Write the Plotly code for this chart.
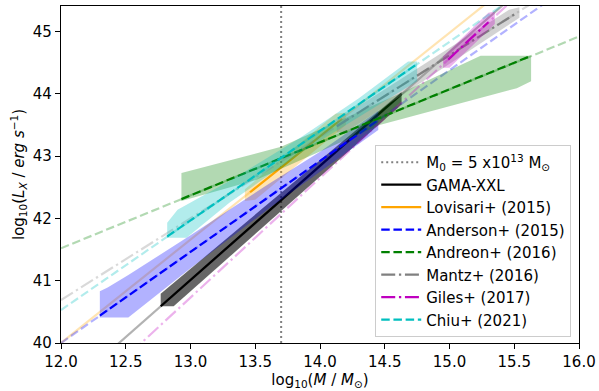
import plotly.graph_objects as go

# ---------------- data ----------------
X_RANGE = [12.0, 16.0]
Y_RANGE = [40.0, 45.41]
X_TICKS = [12.0, 12.5, 13.0, 13.5, 14.0, 14.5, 15.0, 15.5, 16.0]
Y_TICKS = [40, 41, 42, 43, 44, 45]

M0_LOG = 13.7
M0_LABEL = "M<sub>0</sub> = 5 x10<sup>13</sup> M<sub>⊙</sub>"

names = ["GAMA-XXL", "Lovisari+ (2015)", "Anderson+ (2015)", "Andreon+ (2016)",
         "Mantz+ (2016)", "Giles+ (2017)", "Chiu+ (2021)"]

# full (faint) relation lines: values at x = 12 and x = 16
faint_x = [12.0, 16.0]
faint_y = {
    "GAMA-XXL":         [39.18, 46.50],
    "Lovisari+ (2015)": [40.00, 46.64],
    "Anderson+ (2015)": [40.00, 45.84],
    "Andreon+ (2016)":  [41.52, 44.92],
    "Mantz+ (2016)":    [40.69, 45.93],
    "Giles+ (2017)":    [38.81, 46.49],
    "Chiu+ (2021)":     [40.53, 46.27],
}

# relations over the mass range of each sample
dark_x = {
    "GAMA-XXL":         [12.77, 14.63],
    "Lovisari+ (2015)": [13.46, 14.17],
    "Anderson+ (2015)": [12.30, 14.45],
    "Andreon+ (2016)":  [12.93, 15.63],
    "Mantz+ (2016)":    [14.13, 15.52],
    "Giles+ (2017)":    [14.99, 15.30],
    "Chiu+ (2021)":     [12.82, 14.75],
}
dark_y = {
    "GAMA-XXL":         [40.59, 44.00],
    "Lovisari+ (2015)": [42.42, 43.60],
    "Anderson+ (2015)": [40.44, 43.58],
    "Andreon+ (2016)":  [42.31, 44.61],
    "Mantz+ (2016)":    [43.48, 45.30],
    "Giles+ (2017)":    [44.55, 45.15],
    "Chiu+ (2021)":     [41.71, 44.48],
}

# uncertainty bands: upper edge (x, y) and lower edge (x, y)
band_up_x = {
    "GAMA-XXL":         [12.77, 14.53, 14.63],
    "Lovisari+ (2015)": [13.42, 14.12, 14.20],
    "Anderson+ (2015)": [12.30, 12.36, 12.52, 13.00, 13.60, 14.00, 14.45],
    "Andreon+ (2016)":  [12.93, 13.70, 14.62, 15.24, 15.63],
    "Mantz+ (2016)":    [14.13, 15.46, 15.54],
    "Giles+ (2017)":    [14.95, 15.30, 15.35],
    "Chiu+ (2021)":     [12.82, 12.90, 13.30, 13.85, 14.30, 14.68, 14.75],
}
band_up_y = {
    "GAMA-XXL":         [40.79, 43.85, 44.03],
    "Lovisari+ (2015)": [42.47, 43.68, 43.70],
    "Anderson+ (2015)": [40.83, 40.89, 41.09, 41.73, 42.55, 43.07, 43.73],
    "Andreon+ (2016)":  [42.73, 43.15, 44.01, 44.61, 44.61],
    "Mantz+ (2016)":    [43.58, 45.35, 45.39],
    "Giles+ (2017)":    [44.60, 45.30, 45.32],
    "Chiu+ (2021)":     [41.93, 42.14, 42.60, 43.30, 43.93, 44.52, 44.52],
}
band_lo_x = {
    "GAMA-XXL":         [12.77, 12.87, 14.63],
    "Lovisari+ (2015)": [13.42, 13.50, 14.20],
    "Anderson+ (2015)": [12.30, 12.52, 13.00, 13.60, 14.00, 14.45],
    "Andreon+ (2016)":  [12.93, 13.51, 14.46, 15.52, 15.63],
    "Mantz+ (2016)":    [14.13, 14.21, 15.54],
    "Giles+ (2017)":    [14.95, 15.00, 15.35],
    "Chiu+ (2021)":     [12.82, 12.97, 13.30, 13.85, 14.30, 14.75],
}
band_lo_y = {
    "GAMA-XXL":         [40.59, 40.59, 43.83],
    "Lovisari+ (2015)": [42.28, 42.30, 43.50],
    "Anderson+ (2015)": [40.41, 40.41, 41.20, 42.15, 42.75, 43.42],
    "Andreon+ (2016)":  [42.28, 42.62, 43.50, 44.09, 44.20],
    "Mantz+ (2016)":    [43.38, 43.40, 45.22],
    "Giles+ (2017)":    [44.42, 44.42, 45.12],
    "Chiu+ (2021)":     [41.69, 41.69, 42.25, 43.05, 43.63, 44.20],
}

# ---------------- styles ----------------
rgb = {
    "GAMA-XXL":         (0, 0, 0),
    "Lovisari+ (2015)": (255, 165, 0),
    "Anderson+ (2015)": (0, 0, 255),
    "Andreon+ (2016)":  (0, 128, 0),
    "Mantz+ (2016)":    (128, 128, 128),
    "Giles+ (2017)":    (191, 0, 191),
    "Chiu+ (2021)":     (0, 191, 191),
}
DASHED = "8.5px,3.7px"
DASHDOT = "14px,3.7px,2.3px,3.7px"
dash = {
    "GAMA-XXL": "solid",
    "Lovisari+ (2015)": "solid",
    "Anderson+ (2015)": DASHED,
    "Andreon+ (2016)": DASHED,
    "Mantz+ (2016)": DASHDOT,
    "Giles+ (2017)": DASHDOT,
    "Chiu+ (2021)": DASHED,
}
band_alpha = {
    "GAMA-XXL": 0.6,
    "Lovisari+ (2015)": 0.3,
    "Anderson+ (2015)": 0.3,
    "Andreon+ (2016)": 0.3,
    "Mantz+ (2016)": 0.35,
    "Giles+ (2017)": 0.3,
    "Chiu+ (2021)": 0.3,
}


def rgba(c, a):
    return f"rgba({c[0]},{c[1]},{c[2]},{a})"


LW = 2.2
fig = go.Figure()

fig.add_trace(go.Scatter(
    x=[M0_LOG, M0_LOG], y=Y_RANGE, mode="lines", name=M0_LABEL,
    legendgroup="m0",
    line=dict(color="rgb(128,128,128)", width=2, dash="2px,3px")))

for n in names:
    c = rgb[n]
    bx = band_up_x[n] + band_lo_x[n][::-1]
    by = band_up_y[n] + band_lo_y[n][::-1]
    fig.add_trace(go.Scatter(
        x=bx, y=by, mode="lines", fill="toself",
        fillcolor=rgba(c, band_alpha[n]), line=dict(width=0),
        showlegend=False, hoverinfo="skip", legendgroup=n))
    fig.add_trace(go.Scatter(
        x=faint_x, y=faint_y[n], mode="lines",
        line=dict(color=rgba(c, 0.3), width=LW, dash=dash[n]),
        showlegend=False, hoverinfo="skip", legendgroup=n))
    fig.add_trace(go.Scatter(
        x=dark_x[n], y=dark_y[n], mode="lines", name=n, legendgroup=n,
        line=dict(color=rgba(c, 1), width=LW, dash=dash[n])))

FONT = "DejaVu Sans"
axis_common = dict(
    showgrid=False, zeroline=False, showline=True, linecolor="black",
    linewidth=1.2, mirror=True, ticks="outside", ticklen=5, tickwidth=1.2,
    tickcolor="black", tickfont=dict(family=FONT, size=15, color="black"))

fig.update_xaxes(range=X_RANGE, tickvals=X_TICKS,
                 ticktext=[f"{v:.1f}" for v in X_TICKS],
                 title=dict(text="log<sub>10</sub>(<i>M</i> / <i>M</i><sub>⊙</sub>)",
                            font=dict(family=FONT, size=15, color="black"),
                            standoff=4),
                 **axis_common)
fig.update_yaxes(range=Y_RANGE, tickvals=Y_TICKS,
                 ticktext=[str(v) for v in Y_TICKS],
                 title=dict(text="log<sub>10</sub>(<i>L<sub>X</sub></i> / <i>erg s</i><sup>−1</sup>)",
                            font=dict(family=FONT, size=15, color="black"),
                            standoff=4),
                 **axis_common)

fig.update_layout(
    width=599, height=391,
    margin=dict(l=61, r=20, t=6, b=48, autoexpand=False),
    paper_bgcolor="white", plot_bgcolor="white",
    font=dict(family=FONT, size=15, color="black"),
    legend=dict(x=0.985, y=0.018, xanchor="right", yanchor="bottom",
                bgcolor="rgba(255,255,255,0.8)", bordercolor="#cccccc",
                borderwidth=1, font=dict(family=FONT, size=15, color="black"),
                itemwidth=40, traceorder="grouped", tracegroupgap=0),
)

fig.write_html("out.html",
               config={"displayModeBar": False},
               post_script="document.body.style.margin='0';"
                           "document.body.style.overflow='hidden';")
